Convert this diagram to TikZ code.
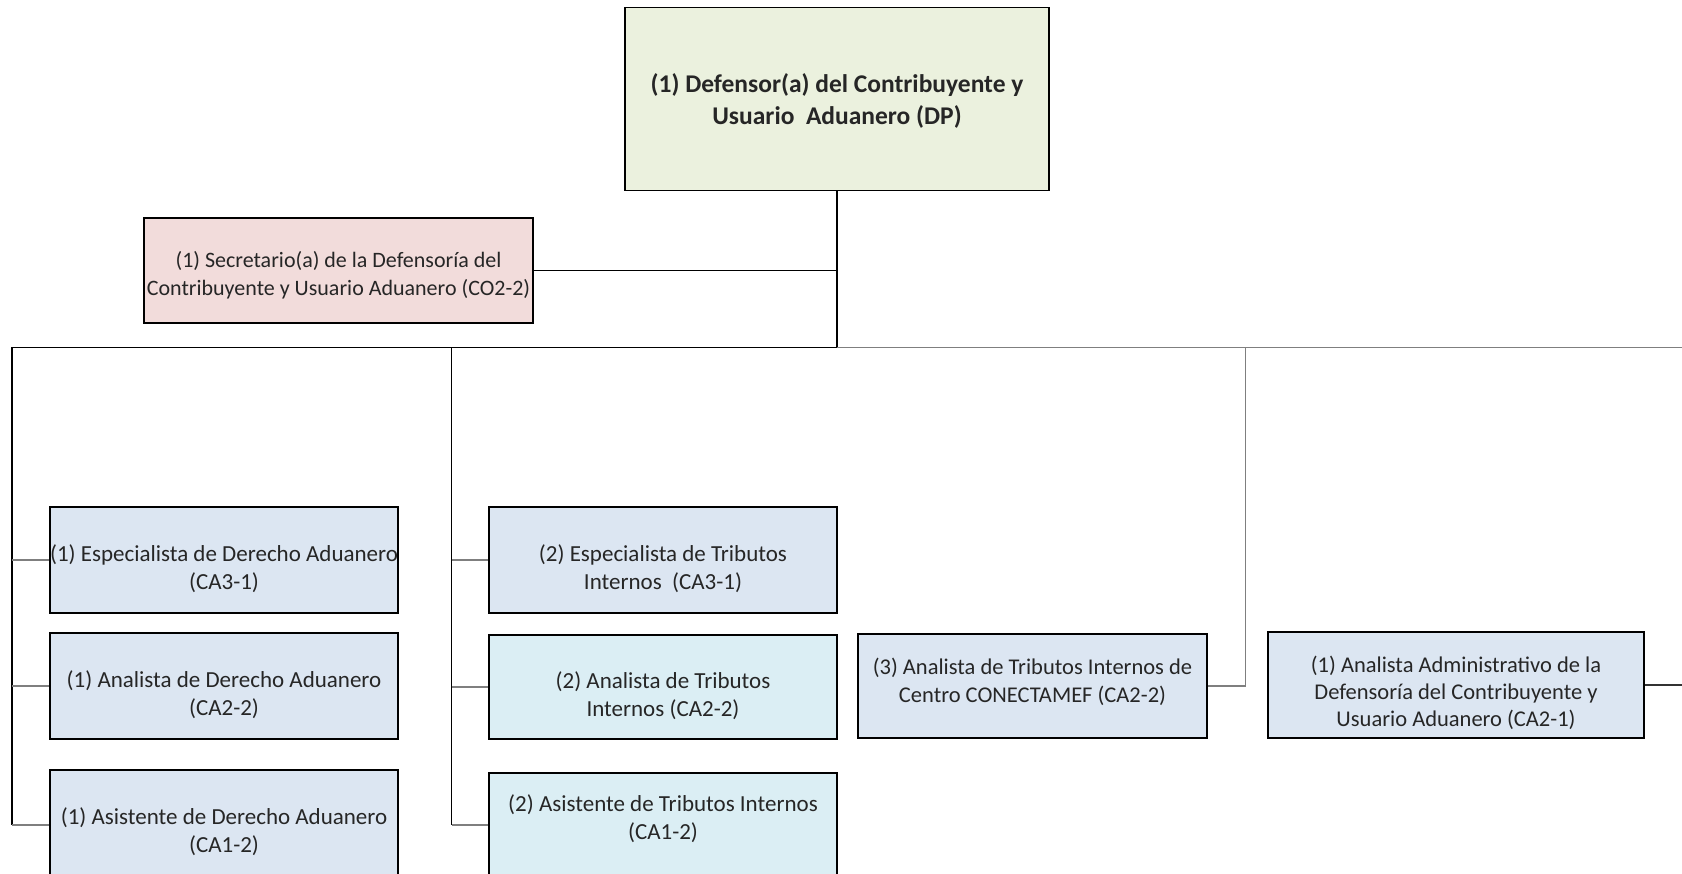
\documentclass[tikz,border=0pt]{standalone}
\usepackage{fontspec}
\setmainfont{Carlito}
\definecolor{topfill}{HTML}{EBF1DE}
\definecolor{secfill}{HTML}{F2DCDB}
\definecolor{bluefill}{HTML}{DCE6F2}
\definecolor{cyanfill}{HTML}{DBEEF4}
\definecolor{stub}{HTML}{7F7F7F}
\begin{document}
\begin{tikzpicture}[x=1pt,y=-1pt,
  box/.style={draw=black, line width=1.8pt, rectangle, inner sep=0pt},
  lbl/.style={inner sep=0pt, align=center, text=black!85, font=\fontsize{23}{28}\selectfont},
  main/.style={draw=black, line width=1.5pt},
  thin/.style={draw=stub, line width=1.2pt},
  darkthin/.style={draw=black!80, line width=1.2pt}]
\useasboundingbox (0,0) rectangle (1682,874);
\fill[white] (0,0) rectangle (1682,874);

\node[box, fill=topfill, minimum width=424pt, minimum height=183pt] (top) at (837,99) {};
\node[lbl, font=\fontsize{25.5}{31.5}\selectfont\bfseries] (topt) at ([yshift=-2pt]top.center)
  {(1) Defensor(a) del Contribuyente y\\Usuario \ Aduanero (DP)};
\node[box, fill=secfill, minimum width=389pt, minimum height=105pt] (sec) at (338.5,270.5) {};
\node[lbl, font=\fontsize{22}{28}\selectfont] (sect) at ([yshift=-5pt]sec.center)
  {(1) Secretario(a) de la Defensoría del\\Contribuyente y Usuario Aduanero (CO2-2)};

\node[box, fill=bluefill, minimum width=348pt, minimum height=105.5pt] (a1) at (224,560) {};
\node[lbl] (a1t) at ([yshift=-9pt]a1.center) {(1) Especialista de Derecho Aduanero\\(CA3-1)};
\node[box, fill=bluefill, minimum width=348pt, minimum height=106pt] (a2) at (224,686) {};
\node[lbl] (a2t) at ([yshift=-9pt]a2.center) {(1) Analista de Derecho Aduanero\\(CA2-2)};
\node[box, fill=bluefill, minimum width=348pt, minimum height=106pt] (a3) at (224,823) {};
\node[lbl] (a3t) at ([yshift=-9pt]a3.center) {(1) Asistente de Derecho Aduanero\\(CA1-2)};

\node[box, fill=bluefill, minimum width=348pt, minimum height=105.5pt] (b1) at (663,560) {};
\node[lbl] (b1t) at ([yshift=-9pt]b1.center) {(2) Especialista de Tributos\\Internos \ (CA3-1)};
\node[box, fill=cyanfill, minimum width=348pt, minimum height=104pt] (b2) at (663,687) {};
\node[lbl] (b2t) at ([yshift=-9pt]b2.center) {(2) Analista de Tributos\\Internos (CA2-2)};
\node[box, fill=cyanfill, minimum width=348pt, minimum height=106pt] (b3) at (663,826) {};
\node[lbl] (b3t) at (663,819) {(2) Asistente de Tributos Internos\\(CA1-2)};

\node[box, fill=bluefill, minimum width=349pt, minimum height=104pt] (c) at (1032.5,686) {};
\node[lbl, font=\fontsize{22.5}{28}\selectfont] (ct) at ([yshift=4pt]c.center)
  {(3) Analista de Tributos Internos de\\Centro CONECTAMEF (CA2-2)};
\node[box, fill=bluefill, minimum width=376pt, minimum height=106pt] (d) at (1456,685) {};
\node[lbl, font=\fontsize{22.5}{27}\selectfont] (dt) at ([yshift=-8pt]d.center)
  {(1) Analista Administrativo de la\\Defensoría del Contribuyente y\\Usuario Aduanero (CA2-1)};

\coordinate (bus) at (837,347.5);
\coordinate (busL) at (12,347.5);
\coordinate (busM) at (451.5,347.5);
\coordinate (busR) at (1682,347.5);
\coordinate (busC) at (1245.5,347.5);
\coordinate (endL) at (12,825);
\coordinate (endM) at (451.5,825);
\coordinate (edgeD) at (1682,686);

\draw[main] (top.south) -- (bus);
\draw[main] (sec.east) -- (sec.east -| bus);
\draw[main] (busL) -- (bus);
\draw[thin] (bus) -- (busR);
\draw[main] (busL) -- (endL);
\draw[main] (busM) -- (endM);
\draw[thin] (a1.west -| busL) -- (a1.west);
\draw[thin] (a2.west -| busL) -- (a2.west);
\draw[thin] (endL) -- (endL -| a3.west);
\draw[thin] (b1.west -| busM) -- (b1.west);
\draw[thin] (b2.west -| busM) -- (b2.west);
\draw[thin] (endM) -- (endM -| b3.west);
\draw[thin] (c.east) -- (c.east -| busC) -- (busC);
\draw[darkthin] (d.east) -- (d.east -| edgeD);
\end{tikzpicture}
\end{document}
